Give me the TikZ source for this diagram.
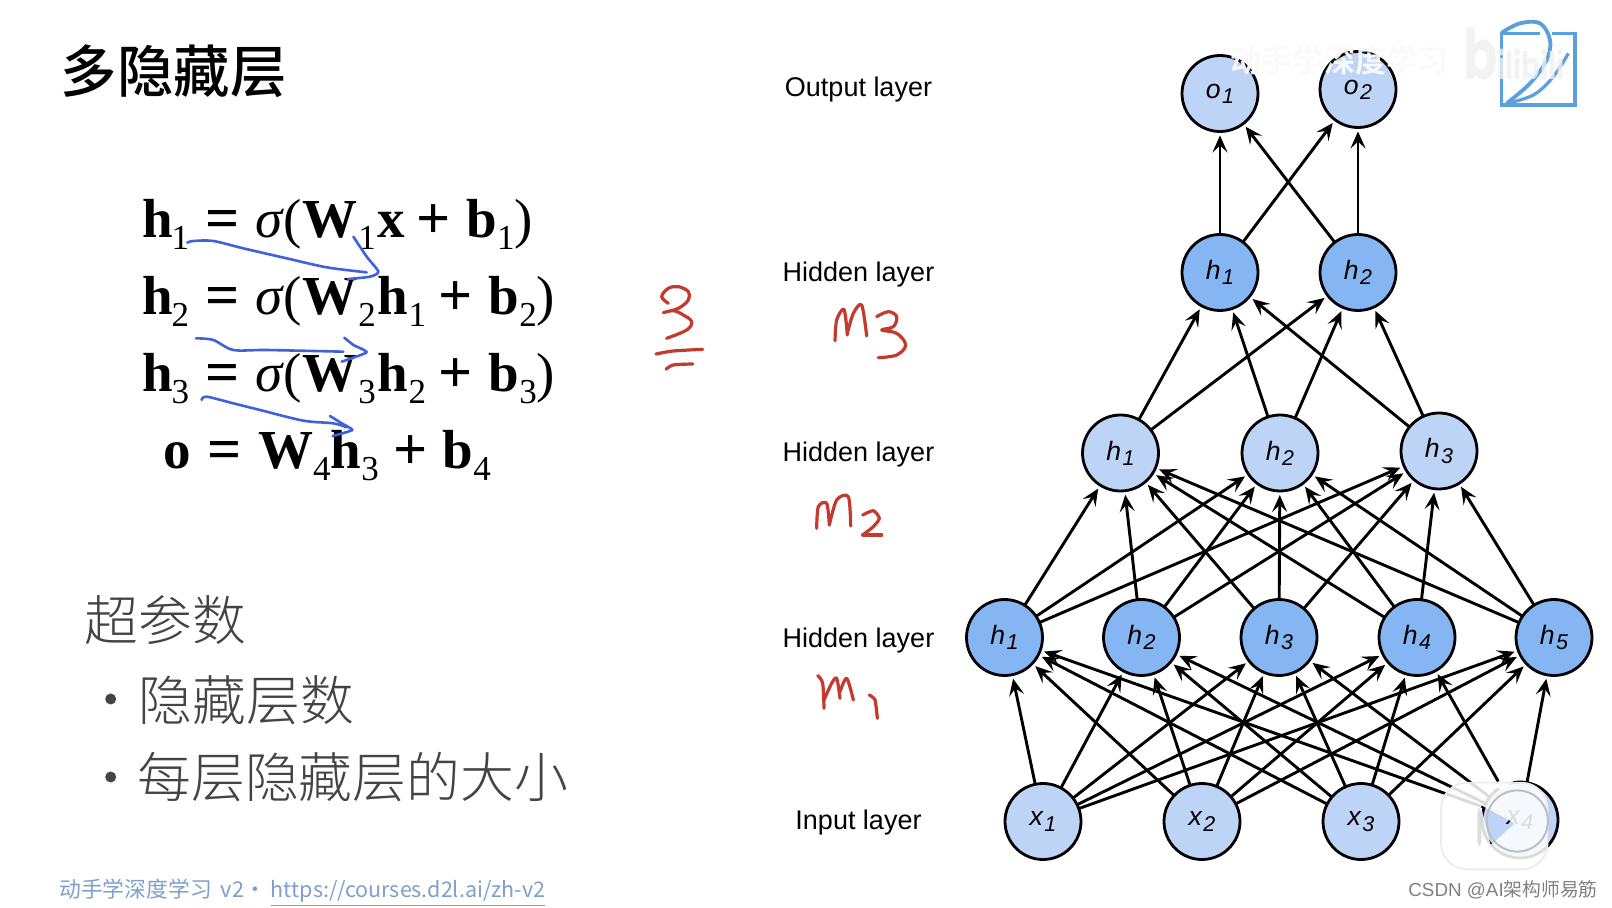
\documentclass[tikz,border=0pt]{standalone}
\usepackage{fontspec}
\usetikzlibrary{arrows.meta}
\setmainfont{Liberation Sans}
\newfontfamily\eqfont{Liberation Serif}
\newfontfamily\cjk{Noto Sans CJK SC}
\newfontfamily\cjklight{Noto Sans CJK SC Light}
\newfontfamily\cjkbold{Noto Sans CJK SC Bold}
\newfontfamily\cjkmedium{Noto Sans CJK SC Medium}
\newfontfamily\logofont{Poppins}[BoldFont=* Bold]
\definecolor{hiddenblue}{HTML}{85B5F2}
\definecolor{paleblue}{HTML}{BDD4F6}
\definecolor{penblue}{HTML}{3F62DC}
\definecolor{penred}{HTML}{C23B2E}
\definecolor{greytext}{HTML}{444444}
\definecolor{linkblue}{HTML}{7F9FCC}
\definecolor{logoblue}{HTML}{5B9FDC}
% subscript, operators and brackets of the equations; labels in the circles
\newcommand{\eqsub}[1]{\raisebox{-6pt}{\fontsize{17.5pt}{17.5pt}\selectfont\mdseries #1}}
\newcommand{\eqsig}{{\mdseries\itshape σ}}
\newcommand{\eqop}[1]{\raisebox{-0.5pt}{\fontsize{30pt}{30pt}\selectfont #1}}
\newcommand{\eqbr}[1]{{\mdseries #1}}
\newcommand{\gp}[1]{\hspace*{#1pt}}
\newcommand{\nl}[2]{\fontsize{13.3pt}{13.3pt}\selectfont\itshape #1\hspace{0.7pt}\raisebox{-2.6pt}{\fontsize{10.7pt}{10.7pt}\selectfont #2}}
\tikzset{
  unit/.style={circle,draw=black,line width=1.4pt,minimum size=38pt,inner sep=0pt,outer sep=0pt},
  hid/.style={unit,fill=hiddenblue},
  pale/.style={unit,fill=paleblue},
  edge/.style={line width=1.45pt,shorten >=2pt,-{Stealth[length=8.5pt,width=7.5pt,inset=3.5pt]}},
  layer/.style={font=\fontsize{13.5pt}{13.5pt}\selectfont,anchor=base,inner sep=0pt},
  eqline/.style={font=\eqfont\fontsize{27.5pt}{27.5pt}\selectfont\bfseries,anchor=base west,inner sep=0pt},
  body/.style={font=\cjklight\fontsize{26.9pt}{26.9pt}\selectfont,text=greytext,anchor=base west,inner sep=0pt},
  bulletdot/.style={circle,fill=greytext,minimum size=5.5pt,inner sep=0pt},
  penb/.style={draw=penblue,line width=1.3pt,line cap=round,line join=round},
  penr/.style={draw=penred,line width=1.6pt,line cap=round,line join=round},
}
\begin{document}
\begin{tikzpicture}[x=0.5pt,y=-0.5pt]
\useasboundingbox (0,0) rectangle (1612,908);
\fill[white] (0,0) rectangle (1612,908);

% left column
\node[anchor=base west,inner sep=0pt,font=\cjkmedium\fontsize{28.2pt}{28.2pt}\selectfont] (title) at (60.5,93) {多隐藏层};

\node[eqline] (eqa) at (141.7,238) {h\gp{-0.5}\eqsub{1}\gp{8}\eqop{=}\gp{8.3}\eqsig\eqbr{(}\gp{0.5}W\gp{0.5}\eqsub{1}\gp{1}x\gp{5.5}\eqop{+}\gp{8}b\eqsub{1}\eqbr{)}};
\node[eqline] (eqb) at (141.7,314.5) {h\gp{-0.5}\eqsub{2}\gp{8}\eqop{=}\gp{8.3}\eqsig\eqbr{(}\gp{0.5}W\gp{0.5}\eqsub{2}\gp{1}h\eqsub{1}\gp{6}\eqop{+}\gp{8.3}b\eqsub{2}\eqbr{)}};
\node[eqline] (eqc) at (141.7,391.5) {h\gp{-0.5}\eqsub{3}\gp{8}\eqop{=}\gp{8.3}\eqsig\eqbr{(}\gp{0.5}W\gp{0.5}\eqsub{3}\gp{1}h\eqsub{2}\gp{6}\eqop{+}\gp{8.3}b\eqsub{3}\eqbr{)}};
\node[eqline] (eqd) at (163.5,468.5) {o\gp{8}\eqop{=}\gp{8.3}W\eqsub{4}\gp{0}h\eqsub{3}\gp{7.4}\eqop{+}\gp{7.5}b\eqsub{4}};

\node[body] (hyper) at (84,641) {超参数};
\node[bulletdot] (dota) at (110.7,699) {};
\node[body] (depth) at (138.5,720) {隐藏层数};
\node[bulletdot] (dotb) at (110.7,777) {};
\node[body] (width) at (137,797) {每层隐藏层的大小};

\node[anchor=base west,inner sep=0pt,text=linkblue,font=\cjk\fontsize{10.9pt}{10.9pt}\selectfont] (foot) at (59,897.5) {动手学深度学习\hspace{4.5pt}v2\hspace{-2pt}\,•\hspace{2.5pt}{\fontsize{10.75pt}{10.75pt}\selectfont\underline{https://courses.d2l.ai/zh-v2}}};

% layer names
\node[layer] (lo) at (858.5,96.5) {Output layer};
\node[layer] (lc) at (858.5,282) {Hidden layer};
\node[layer] (lb) at (858.5,461.7) {Hidden layer};
\node[layer] (la) at (858.5,647) {Hidden layer};
\node[layer] (li) at (858.5,829) {Input layer};

% network units
\node[pale] (o1) at (1220,93.5) {\nl{o}{1}};
\node[pale] (o2) at (1358,89.5) {\nl{o}{2}};
\node[hid] (r1) at (1220,272.5) {\nl{h}{1}};
\node[hid] (r2) at (1358,272.5) {\nl{h}{2}};
\node[pale] (q1) at (1120.5,453) {\nl{h}{1}};
\node[pale] (q2) at (1280,453) {\nl{h}{2}};
\node[pale] (q3) at (1439,451) {\nl{h}{3}};
\node[hid] (p1) at (1004.5,637.5) {\nl{h}{1}};
\node[hid] (p2) at (1141.5,637.5) {\nl{h}{2}};
\node[hid] (p3) at (1279,637.5) {\nl{h}{3}};
\node[hid] (p4) at (1417,637.5) {\nl{h}{4}};
\node[hid] (p5) at (1554,637.5) {\nl{h}{5}};
\node[pale] (x1) at (1043,821.5) {\nl{x}{1}};
\node[pale] (x2) at (1202,821.5) {\nl{x}{2}};
\node[pale] (x3) at (1361,821.5) {\nl{x}{3}};
\node[pale] (x4) at (1520,820) {\nl{x}{4}};

% full connections between neighbouring layers
\foreach \a in {1,2,3,4} \foreach \b in {1,2,3,4,5} \draw[edge] (x\a) -- (p\b);
\foreach \a in {1,2,3,4,5} \foreach \b in {1,2,3} \draw[edge] (p\a) -- (q\b);
\foreach \a in {1,2,3} \foreach \b in {1,2} \draw[edge] (q\a) -- (r\b);
\foreach \a in {1,2} \foreach \b in {1,2} \draw[edge] (r\a) -- (o\b);

% pen strokes over the equations
\begin{scope}[shift={(100,170)},x=0.16667pt,y=-0.16667pt]
  \draw[penb] plot[smooth,tension=0.5] coordinates {(262,218)(280,213)(340,213)(430,235)(560,265)(680,292)(800,307)};
  \draw[penb] plot[smooth,tension=0.4] coordinates {(760,200)(800,260)(835,305)(810,320)(745,327)};
  \draw[penb] plot[smooth,tension=0.5] coordinates {(288,505)(340,510)(400,540)(500,540)(730,545)};
  \draw[penb] plot[smooth,tension=0.3] coordinates {(733,503)(760,525)(800,547)(725,575)};
  \draw[penb] plot[smooth,tension=0.5] coordinates {(305,690)(320,680)(400,700)(480,720)(610,752)(700,760)(740,772)};
  \draw[penb] plot[smooth,tension=0.3] coordinates {(690,738)(725,760)(757,780)(698,798)};
\end{scope}

% handwritten layer sizes
\begin{scope}[shift={(640,270)},x=0.16667pt,y=-0.16667pt]
  \draw[penr] plot[smooth,tension=0.6] coordinates {(85,100)(65,80)(85,55)(115,50)(145,65)(145,90)(115,115)(70,128)(100,122)(130,135)(155,155)(140,180)(80,205)};
  \draw[penr] plot[smooth,tension=0.5] coordinates {(48,252)(100,243)(188,238)};
  \draw[penr] plot[smooth,tension=0.5] coordinates {(78,298)(100,285)(158,282)};
  \draw[penr] plot[smooth,tension=0.5] coordinates {(585,212)(590,150)(612,118)(622,195)};
  \draw[penr] plot[smooth,tension=0.5] coordinates {(622,190)(640,130)(665,105)(680,198)};
  \draw[penr] plot[smooth,tension=0.6] coordinates {(710,140)(745,125)(770,140)(760,170)(725,180)(770,190)(797,225)(770,255)(715,263)};
  \draw[penr] plot[smooth,tension=0.5] coordinates {(530,775)(535,710)(560,700)(568,765)};
  \draw[penr] plot[smooth,tension=0.5] coordinates {(568,765)(590,690)(625,680)(632,768)};
  \draw[penr] plot[smooth,tension=0.4] coordinates {(668,735)(700,722)(718,745)(700,770)(668,795)};
  \draw[penr] (668,795) -- (725,795);
  \draw[penr] plot[smooth,tension=0.5] coordinates {(533,1217)(548,1240)(552,1315)};
  \draw[penr] plot[smooth,tension=0.5] coordinates {(552,1290)(575,1240)(590,1225)(600,1285)};
  \draw[penr] plot[smooth,tension=0.5] coordinates {(600,1265)(620,1225)(640,1290)};
  \draw[penr] plot[smooth,tension=0.4] coordinates {(688,1275)(705,1290)(712,1345)};
\end{scope}

% course logo, corner mark
\begin{scope}[shift={(1440,10)},x=0.16667pt,y=-0.16667pt]
  \draw[logoblue,line width=1.6pt,line join=miter] (300,70) -- (185,70) -- (185,285) -- (405,285) -- (405,70) -- (335,70);
  \draw[logoblue,line width=1.9pt] plot[smooth,tension=0.6] coordinates {(185,68)(240,40)(300,40)(330,90)(320,150)(270,220)(200,280)};
  \draw[logoblue,line width=1.6pt] plot[smooth,tension=0.6] coordinates {(200,280)(280,255)(340,200)(385,130)};
\end{scope}
\node[anchor=base west,inner sep=0pt,text=black!6,opacity=0.8,xscale=0.72,font=\logofont\bfseries] (site) at (1463,80)
  {\fontsize{35pt}{35pt}\selectfont b\fontsize{19pt}{19pt}\selectfont ilibili};
\node[anchor=base west,inner sep=0pt,text=black!2,opacity=0.95,font=\cjkbold\fontsize{15.6pt}{15.6pt}\selectfont] (mark) at (1230,73) {动手学深度学习};

% video player badge
\begin{scope}[shift={(1380,740)},x=0.16667pt,y=-0.16667pt]
  \draw[white,opacity=0.9,line width=5pt,line cap=round] (278,95) -- (320,135);
  \draw[white,opacity=0.9,line width=5pt,line cap=round] (408,95) -- (366,135);
  \fill[white,opacity=0.86,even odd rule,rounded corners=13pt] (183,128) rectangle (503,388)
    [rounded corners=1pt] (302,195) -- (405,250) -- (332,316) -- cycle;
  \draw[black!8,line width=0.8pt,rounded corners=13pt] (183,128) rectangle (503,388);
  \fill[black!25,opacity=0.5,rounded corners=2pt] (292,205) rectangle (304,318);
  \draw[black!25,line width=1pt] (412,243) circle[radius=15.3pt];
\end{scope}
\node[anchor=base west,inner sep=0pt,text=black!50,font=\fontsize{9.4pt}{9.4pt}\selectfont] (csdn) at (1408,896) {CSDN @AI{\cjk 架构师易筋}};
\end{tikzpicture}
\end{document}
